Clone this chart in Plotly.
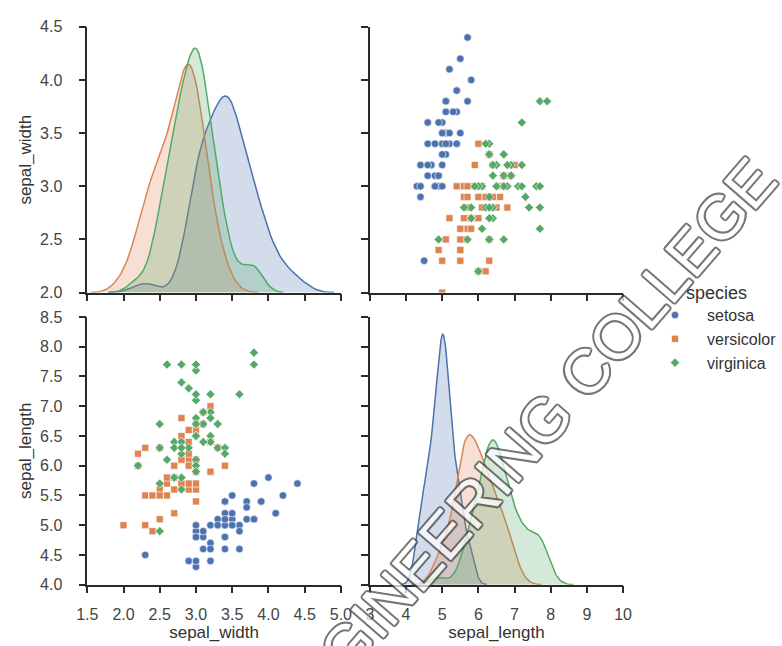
import numpy as np
import plotly.graph_objects as go

species = ["setosa", "versicolor", "virginica"]
colors = ["#4C72B0", "#DD8452", "#55A868"]
symbols = ["circle", "square", "diamond"]

sepal_length_setosa = [5.1, 4.9, 4.7, 4.6, 5.0, 5.4, 4.6, 5.0, 4.4, 4.9, 5.4, 4.8, 4.8, 4.3, 5.8, 5.7, 5.4, 5.1, 5.7, 5.1,
                       5.4, 5.1, 4.6, 5.1, 4.8, 5.0, 5.0, 5.2, 5.2, 4.7, 4.8, 5.4, 5.2, 5.5, 4.9, 5.0, 5.5, 4.9, 4.4, 5.1,
                       5.0, 4.5, 4.4, 5.0, 5.1, 4.8, 5.1, 4.6, 5.3, 5.0]
sepal_width_setosa = [3.5, 3.0, 3.2, 3.1, 3.6, 3.9, 3.4, 3.4, 2.9, 3.1, 3.7, 3.4, 3.0, 3.0, 4.0, 4.4, 3.9, 3.5, 3.8, 3.8,
                      3.4, 3.7, 3.6, 3.3, 3.4, 3.0, 3.4, 3.5, 3.4, 3.2, 3.1, 3.4, 4.1, 4.2, 3.1, 3.2, 3.5, 3.6, 3.0, 3.4,
                      3.5, 2.3, 3.2, 3.5, 3.8, 3.0, 3.8, 3.2, 3.7, 3.3]
sepal_length_versicolor = [7.0, 6.4, 6.9, 5.5, 6.5, 5.7, 6.3, 4.9, 6.6, 5.2, 5.0, 5.9, 6.0, 6.1, 5.6, 6.7, 5.6, 5.8, 6.2, 5.6,
                           5.9, 6.1, 6.3, 6.1, 6.4, 6.6, 6.8, 6.7, 6.0, 5.7, 5.5, 5.5, 5.8, 6.0, 5.4, 6.0, 6.7, 6.3, 5.6, 5.5,
                           5.5, 6.1, 5.8, 5.0, 5.6, 5.7, 5.7, 6.2, 5.1, 5.7]
sepal_width_versicolor = [3.2, 3.2, 3.1, 2.3, 2.8, 2.8, 3.3, 2.4, 2.9, 2.7, 2.0, 3.0, 2.2, 2.9, 2.9, 3.1, 3.0, 2.7, 2.2, 2.5,
                          3.2, 2.8, 2.5, 2.8, 2.9, 3.0, 2.8, 3.0, 2.9, 2.6, 2.4, 2.4, 2.7, 2.7, 3.0, 3.4, 3.1, 2.3, 3.0, 2.5,
                          2.6, 3.0, 2.6, 2.3, 2.7, 3.0, 2.9, 2.9, 2.5, 2.8]
sepal_length_virginica = [6.3, 5.8, 7.1, 6.3, 6.5, 7.6, 4.9, 7.3, 6.7, 7.2, 6.5, 6.4, 6.8, 5.7, 5.8, 6.4, 6.5, 7.7, 7.7, 6.0,
                          6.9, 5.6, 7.7, 6.3, 6.7, 7.2, 6.2, 6.1, 6.4, 7.2, 7.4, 7.9, 6.4, 6.3, 6.1, 7.7, 6.3, 6.4, 6.0, 6.9,
                          6.7, 6.9, 5.8, 6.8, 6.7, 6.7, 6.3, 6.5, 6.2, 5.9]
sepal_width_virginica = [3.3, 2.7, 3.0, 2.9, 3.0, 3.0, 2.5, 2.9, 2.5, 3.6, 3.2, 2.7, 3.0, 2.5, 2.8, 3.2, 3.0, 3.8, 2.6, 2.2,
                         3.2, 2.8, 2.8, 2.7, 3.3, 3.2, 2.8, 3.0, 2.8, 3.0, 2.8, 3.8, 2.8, 2.8, 2.6, 3.0, 3.4, 3.1, 3.0, 3.1,
                         3.1, 3.1, 2.7, 3.2, 3.3, 3.0, 2.5, 3.0, 3.4, 3.0]

sepal_length = [sepal_length_setosa, sepal_length_versicolor, sepal_length_virginica]
sepal_width = [sepal_width_setosa, sepal_width_versicolor, sepal_width_virginica]

width_ticks = [1.5, 2.0, 2.5, 3.0, 3.5, 4.0, 4.5, 5.0]
length_ticks_x = [3, 4, 5, 6, 7, 8, 9, 10]
width_ticks_y = [2.0, 2.5, 3.0, 3.5, 4.0, 4.5]
length_ticks_y = [4.0, 4.5, 5.0, 5.5, 6.0, 6.5, 7.0, 7.5, 8.0, 8.5]


def kde(values, gridsize=100, cut=3):
    v = np.asarray(values, dtype=float)
    n = len(v)
    std = v.std(ddof=1)
    q75, q25 = np.percentile(v, [75, 25])
    a = min(std, (q75 - q25) / 1.349)
    bw = 1.059 * a * n ** (-0.2)
    grid = np.linspace(v.min() - cut * bw, v.max() + cut * bw, gridsize)
    dens = np.exp(-0.5 * ((grid[:, None] - v[None, :]) / bw) ** 2).sum(axis=1) / (n * bw * np.sqrt(2 * np.pi))
    return grid, dens


def rgba(hexc, a):
    h = hexc.lstrip("#")
    return "rgba(%d,%d,%d,%.2f)" % (int(h[0:2], 16), int(h[2:4], 16), int(h[4:6], 16), a)


W, H = 782, 646
FONT = "Liberation Sans, Arial, sans-serif"
TICKC = "#444444"
LINEC = "#2a2a2a"

fig = go.Figure()

kde_w = [kde(sw) for sw in sepal_width]
kde_l = [kde(sl) for sl in sepal_length]
max_w = max(d.max() for _, d in kde_w)
max_l = max(d.max() for _, d in kde_l)

fig.add_trace(go.Scatter(x=[], y=[], xaxis="x", yaxis="y", showlegend=False, hoverinfo="skip"))
fig.add_trace(go.Scatter(x=[], y=[], xaxis="x4", yaxis="y4", showlegend=False, hoverinfo="skip"))

for i, sp in enumerate(species):
    c = colors[i]
    g, d = kde_w[i]
    fig.add_trace(go.Scatter(x=g, y=d, xaxis="x5", yaxis="y5", mode="lines", fill="tozeroy",
                             line=dict(color=c, width=1.5), fillcolor=rgba(c, 0.25),
                             showlegend=False, hoverinfo="skip"))
    g, d = kde_l[i]
    fig.add_trace(go.Scatter(x=g, y=d, xaxis="x6", yaxis="y6", mode="lines", fill="tozeroy",
                             line=dict(color=c, width=1.5), fillcolor=rgba(c, 0.25),
                             showlegend=False, hoverinfo="skip"))

for i, sp in enumerate(species):
    c = colors[i]
    msize = [7.5, 7, 7][i]
    mk = dict(color=c, symbol=symbols[i], size=msize, line=dict(color="white", width=0.6))
    fig.add_trace(go.Scatter(x=sepal_length[i], y=sepal_width[i], xaxis="x2", yaxis="y2", mode="markers",
                             marker=mk, name=sp, legendgroup=sp, showlegend=True))
    fig.add_trace(go.Scatter(x=sepal_width[i], y=sepal_length[i], xaxis="x3", yaxis="y3", mode="markers",
                             marker=mk, name=sp, legendgroup=sp, showlegend=False))

xl = [79 / W, 341.7 / W]
xr = [371.7 / W, 634 / W]
yt = [1 - 292.3 / H, 1 - 19.3 / H]
yb = [1 - 592.3 / H, 1 - 317.3 / H]


def ax(domain, rng, ticks, labels, anchor, fmt, standoff, title=None, tstand=5):
    d = dict(domain=domain, range=rng, tickmode="array", tickvals=ticks, tickformat=fmt,
             showticklabels=labels, anchor=anchor, showline=True, linecolor=LINEC, linewidth=1.5,
             ticks="outside", ticklen=7, tickwidth=1.5, tickcolor=LINEC, showgrid=False, zeroline=False,
             tickfont=dict(family=FONT, size=16, color=TICKC), mirror=False, fixedrange=True,
             ticklabelstandoff=standoff)
    if title:
        d["title"] = dict(text=title, standoff=tstand, font=dict(family=FONT, size=17, color="#333333"))
    return d


def hidden(domain, rng, anchor):
    return dict(domain=domain, range=rng, anchor=anchor, visible=False, fixedrange=True,
                showgrid=False, zeroline=False)


fig.update_layout(
    width=W, height=H,
    margin=dict(l=0, r=0, t=0, b=0),
    paper_bgcolor="white", plot_bgcolor="rgba(0,0,0,0)",
    xaxis=ax(xl, [1.5, 5.0], width_ticks, False, "y", ".1f", 7),
    yaxis=ax(yt, [2.0, 4.5], width_ticks_y, True, "x", ".1f", 13, "sepal_width", 4),
    xaxis2=ax(xr, [3, 10], length_ticks_x, False, "y2", "d", 7),
    yaxis2=ax(yt, [2.0, 4.5], width_ticks_y, False, "x2", ".1f", 13),
    xaxis3=ax(xl, [1.5, 5.0], width_ticks, True, "y3", ".1f", 7, "sepal_width", 4),
    yaxis3=ax(yb, [4.0, 8.5], length_ticks_y, True, "x3", ".1f", 13, "sepal_length", 4),
    xaxis4=ax(xr, [3, 10], length_ticks_x, True, "y4", "d", 7, "sepal_length", 4),
    yaxis4=ax(yb, [4.0, 8.5], length_ticks_y, False, "x4", ".1f", 13),
    xaxis5=hidden(xl, [1.5, 5.0], "y5"),
    yaxis5=hidden(yt, [0, max_w / 0.92], "x5"),
    xaxis6=hidden(xr, [3, 10], "y6"),
    yaxis6=hidden(yb, [0, max_l / 0.935], "x6"),
    showlegend=True,
    legend=dict(x=655 / W, y=1 - 298 / H, xanchor="left", yanchor="top",
                font=dict(family=FONT, size=16, color="#333333"), bgcolor="rgba(0,0,0,0)",
                itemwidth=54, tracegroupgap=0),
    annotations=[
        dict(text="species", x=697 / W, y=1 - 293 / H, xref="paper", yref="paper", xanchor="left",
             yanchor="middle", showarrow=False, font=dict(family=FONT, size=18, color="#333333")),
        dict(text="ENGINEERING COLLEGE", x=526.5 / W, y=1 - 452 / H, xref="paper", yref="paper",
             xanchor="center", yanchor="middle", showarrow=False, textangle=-49, opacity=0.72,
             font=dict(family=FONT, size=62, color="white",
                       shadow="-1.5px -1.5px 0 #444, 1.5px -1.5px 0 #444, -1.5px 1.5px 0 #444, 1.5px 1.5px 0 #444, 0 2px 0 #444, 0 -2px 0 #444, 2px 0 0 #444, -2px 0 0 #444")),
    ],
)

fig.write_html("out.html")
